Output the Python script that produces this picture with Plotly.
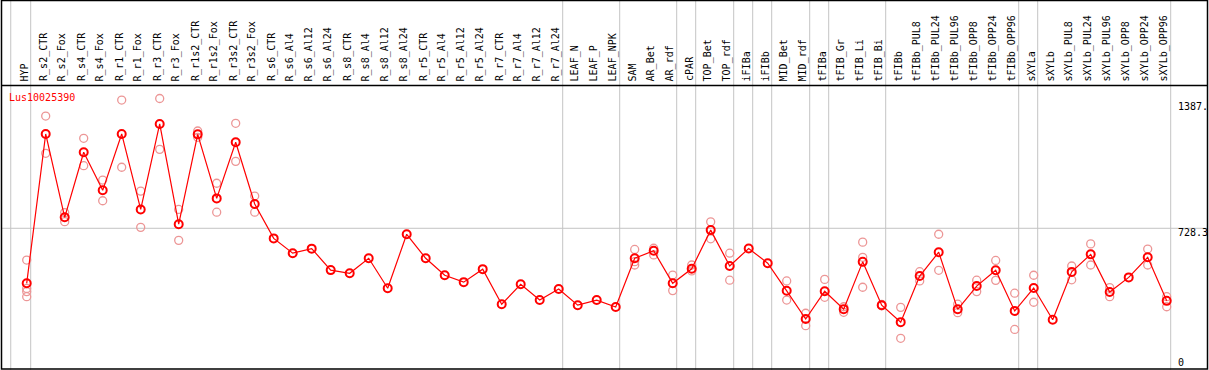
import plotly.graph_objects as go

categories = ["HYP", "R_s2_CTR", "R_s2_Fox", "R_s4_CTR", "R_s4_Fox", "R_r1_CTR", "R_r1_Fox",
              "R_r3_CTR", "R_r3_Fox", "R_r1s2_CTR", "R_r1s2_Fox", "R_r3s2_CTR", "R_r3s2_Fox",
              "R_s6_CTR", "R_s6_Al4", "R_s6_Al12", "R_s6_Al24", "R_s8_CTR", "R_s8_Al4",
              "R_s8_Al12", "R_s8_Al24", "R_r5_CTR", "R_r5_Al4", "R_r5_Al12", "R_r5_Al24",
              "R_r7_CTR", "R_r7_Al4", "R_r7_Al12", "R_r7_Al24", "LEAF_N", "LEAF_P", "LEAF_NPK",
              "SAM", "AR_Bet", "AR_rdf", "cPAR", "TOP_Bet", "TOP_rdf", "iFIBa", "iFIBb",
              "MID_Bet", "MID_rdf", "tFIBa", "tFIB_Gr", "tFIB_Li", "tFIB_Bi", "tFIBb",
              "tFIBb_PUL8", "tFIBb_PUL24", "tFIBb_PUL96", "tFIBb_OPP8", "tFIBb_OPP24",
              "tFIBb_OPP96", "sXYLa", "sXYLb", "sXYLb_PUL8", "sXYLb_PUL24", "sXYLb_PUL96",
              "sXYLb_OPP8", "sXYLb_OPP24", "sXYLb_OPP96"]

means = [449, 1207, 784, 1114, 921, 1207, 824, 1258, 749, 1205, 880, 1165, 852,
         677, 602, 625, 516, 500, 576, 424, 698, 576, 490, 455, 521,
         343, 444, 364, 420, 338, 364, 329,
         576, 614, 449, 523, 719, 537, 626, 551,
         411, 268, 409, 318, 558, 338, 252,
         486, 607, 317, 435, 515, 309,
         425, 264, 507, 596, 405, 479, 581, 360]

replicates = [
    [567, 423, 407, 381], [1298, 1109], [808, 762], [1185, 1046], [973, 868],
    [1379, 1038], [917, 733], [1387, 1129], [824, 667], [1222, 1190], [957, 810],
    [1261, 1068], [892, 810],
    [], [], [], [], [], [], [], [], [], [], [], [], [], [], [], [], [], [], [],
    [621, 559, 542], [627, 593], [491, 412], [542, 512], [761, 675], [602, 465],
    [], [],
    [461, 364], [297, 234], [469, 378], [330, 302], [658, 581, 429], [342, 335], [327, 170],
    [508, 461], [698, 515], [343, 300], [465, 407], [565, 464], [399, 215],
    [490, 353], [], [537, 467], [649, 542], [427, 381], [], [623, 542], [381, 330],
]

group_breaks = ["HYP", "R_r7_Al24", "LEAF_NPK", "AR_rdf", "cPAR", "TOP_rdf", "iFIBa",
                "iFIBb", "MID_rdf", "tFIBa", "tFIB_Bi", "tFIBb_OPP96", "sXYLa", "sXYLb_OPP96"]

gene_name = "Lus10025390"
y_max_label = "1387."
y_mid_value = 728.3
y_mid_label = "728.3"
y_min_label = "0"

W, H = 1209, 370
FONT = "DejaVu Sans Mono"
GREY = "#c4c4c4"
RED = "#ff0000"
PINK = "rgb(236,150,150)"


def px_x(p):
    return p / W


def px_y(p):
    return 1 - p / H


xs = list(range(len(categories)))

rep_x, rep_y = [], []
for i, reps in enumerate(replicates):
    for v in reps:
        rep_x.append(i)
        rep_y.append(v)

fig = go.Figure()
fig.add_trace(go.Scatter(x=rep_x, y=rep_y, mode="markers",
                         marker=dict(symbol="circle-open", size=8, color=PINK,
                                     line=dict(width=1.3, color=PINK)),
                         hoverinfo="skip", cliponaxis=False))
fig.add_trace(go.Scatter(x=xs, y=means, mode="lines+markers",
                         line=dict(color=RED, width=1.2),
                         marker=dict(symbol="circle-open", size=8, color=RED,
                                     line=dict(width=2, color=RED)),
                         cliponaxis=False))

shapes = []
sep_positions = [-0.84] + [categories.index(c) + 0.21 for c in group_breaks]
for sx in sep_positions:
    shapes.append(dict(type="line", xref="x", yref="paper", x0=sx, x1=sx, y0=0, y1=1,
                       line=dict(color=GREY, width=1), layer="below"))
shapes.append(dict(type="line", xref="paper", yref="y", x0=px_x(1), x1=px_x(1207),
                   y0=y_mid_value, y1=y_mid_value, line=dict(color=GREY, width=1), layer="below"))
shapes.append(dict(type="line", xref="paper", yref="paper", x0=px_x(1), x1=px_x(1207),
                   y0=px_y(85.5), y1=px_y(85.5), line=dict(color="black", width=1.5)))
shapes.append(dict(type="rect", xref="paper", yref="paper", x0=px_x(1.5), x1=px_x(1207.5),
                   y0=px_y(369), y1=px_y(0.5), line=dict(color="black", width=1.5)))

annotations = []
for i, c in enumerate(categories):
    annotations.append(dict(x=i - 0.12, xref="x", y=px_y(83), yref="paper", text=c,
                            textangle=-90, showarrow=False, xanchor="center", yanchor="bottom",
                            font=dict(family=FONT, size=10, color="black")))
annotations.append(dict(x=px_x(7), xref="paper", y=px_y(97), yref="paper", text=gene_name,
                        showarrow=False, xanchor="left", yanchor="middle",
                        font=dict(family=FONT, size=10, color=RED)))
for lab, py in [(y_max_label, 106.7), (y_mid_label, 232.7), (y_min_label, 362)]:
    annotations.append(dict(x=px_x(1176), xref="paper", y=px_y(py), yref="paper", text=lab,
                            showarrow=False, xanchor="left", yanchor="middle",
                            font=dict(family=FONT, size=10, color="black")))

fig.update_layout(
    width=W, height=H,
    margin=dict(l=0, r=0, t=0, b=0),
    paper_bgcolor="white", plot_bgcolor="white",
    showlegend=False,
    xaxis=dict(visible=False, range=[(0 - 26.7) / 19, (W - 26.7) / 19], fixedrange=True),
    yaxis=dict(visible=False, range=[9.1, 1886.9], fixedrange=True),
    shapes=shapes, annotations=annotations,
)

fig.write_html("out.html", config={"displayModeBar": False},
               post_script="document.body.style.margin='0';document.body.style.overflow='hidden';")
